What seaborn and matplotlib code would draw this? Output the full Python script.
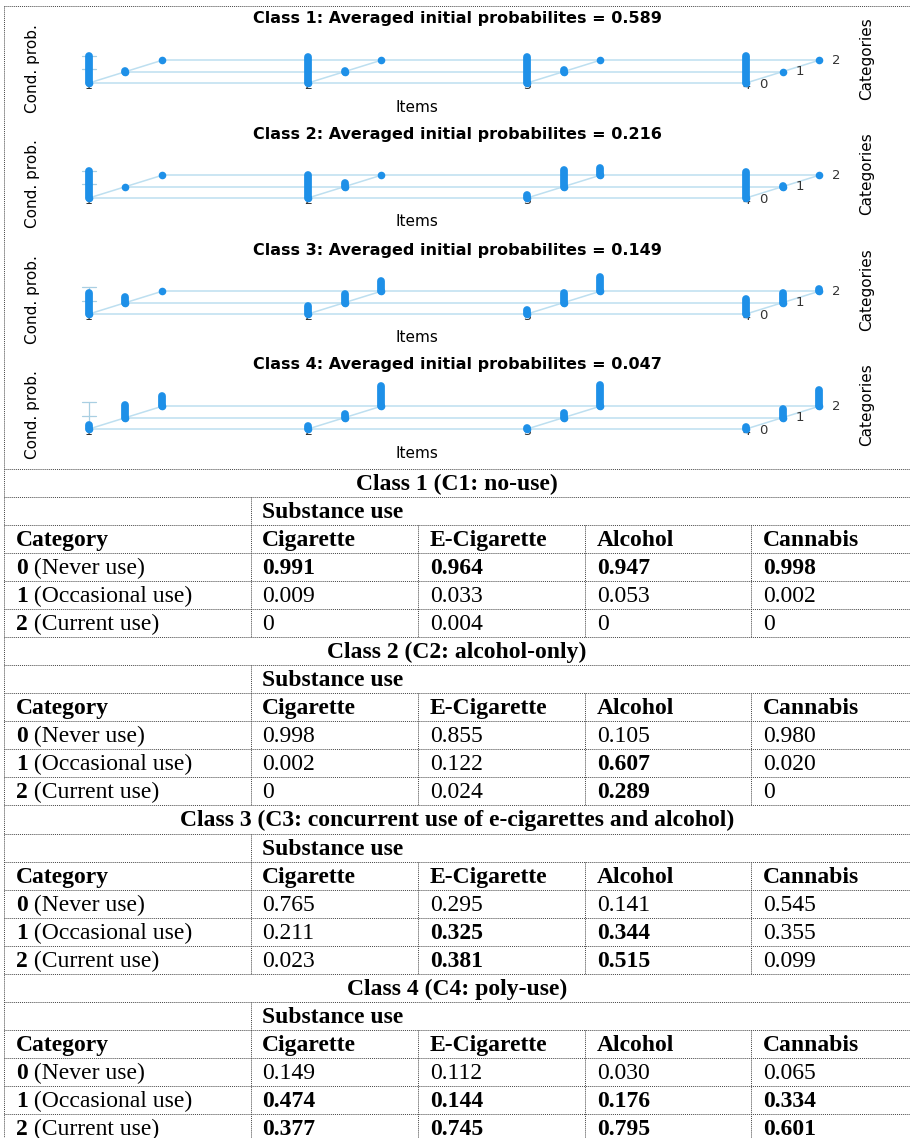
import numpy as np
import pandas as pd
import matplotlib.pyplot as plt
import seaborn as sns

# ---- data ----
items = ['Cigarette', 'E-Cigarette', 'Alcohol', 'Cannabis']
cat_codes = ['0', '1', '2']
cat_names = ['Never use', 'Occasional use', 'Current use']
class_names = ['Class 1 (C1: no-use)', 'Class 2 (C2: alcohol-only)',
               'Class 3 (C3: concurrent use of e-cigarettes and alcohol)',
               'Class 4 (C4: poly-use)']
init_probs = [0.589, 0.216, 0.149, 0.047]

# rows = category 0/1/2, columns = items
c1_probs = [[0.991, 0.964, 0.947, 0.998],
            [0.009, 0.033, 0.053, 0.002],
            [0, 0.004, 0, 0]]
c2_probs = [[0.998, 0.855, 0.105, 0.980],
            [0.002, 0.122, 0.607, 0.020],
            [0, 0.024, 0.289, 0]]
c3_probs = [[0.765, 0.295, 0.141, 0.545],
            [0.211, 0.325, 0.344, 0.355],
            [0.023, 0.381, 0.515, 0.099]]
c4_probs = [[0.149, 0.112, 0.030, 0.065],
            [0.474, 0.144, 0.176, 0.334],
            [0.377, 0.745, 0.795, 0.601]]

c1_bold = [[1, 1, 1, 1], [0, 0, 0, 0], [0, 0, 0, 0]]
c2_bold = [[0, 0, 0, 0], [0, 0, 1, 0], [0, 0, 1, 0]]
c3_bold = [[0, 0, 0, 0], [0, 1, 1, 0], [0, 1, 1, 0]]
c4_bold = [[0, 0, 0, 0], [1, 1, 1, 1], [1, 1, 1, 1]]

all_probs = [c1_probs, c2_probs, c3_probs, c4_probs]
all_bold = [c1_bold, c2_bold, c3_bold, c4_bold]

# ---- layout ----
W, H = 910, 1138
sns.set_theme(style='white')
plt.rcParams['font.family'] = ['DejaVu Sans']
plt.rcParams['text.color'] = 'black'

fig = plt.figure(figsize=(W / 100, H / 100), dpi=100)

def fx(px):
    return px / W

def fy(py):
    return 1 - py / H

BLUE = '#1e90e8'
LIGHT = '#bddff0'
SERIF = 'Liberation Serif'

# table / border axes in pixel coordinates
ax_t = fig.add_axes([0, 0, 1, 1])
ax_t.set_xlim(0, W)
ax_t.set_ylim(H, 0)
ax_t.axis('off')

# projection of (item, category, prob) onto the flat panel
item_step, cat_dy = 6, 0.42
px_x, px_y, x0_px = 36.5, 27.0, 89
baselines = [83, 198, 314, 429]

for p, probs in enumerate(all_probs):
    b = baselines[p]
    ax = fig.add_axes([0, fy(b + 40), 1, 112 / H])

    rows = []
    for k in range(3):
        for i in range(4):
            rows.append({'item': i + 1, 'cat': k, 'prob': probs[k][i],
                         'X': i * item_step + k, 'Y': k * cat_dy})
    df = pd.DataFrame(rows)

    # grid lines: one per category across items, one diagonal per item
    for k in range(3):
        d = df[df['cat'] == k]
        ax.plot(d['X'], d['Y'], color=LIGHT, lw=1.1, zorder=1)
    for i in range(1, 5):
        d = df[df['item'] == i]
        ax.plot(d['X'], d['Y'], color=LIGHT, lw=1.1, zorder=1)

    # probability axis at item 1
    hw = 7 / px_x
    ax.plot([0, 0], [0, 1], color='#a9cfe2', lw=0.9, zorder=1.5)
    for t in [0.5, 1.0]:
        ax.plot([-hw, hw], [t, t], color='#a9cfe2', lw=0.9, zorder=1.5)

    # bars
    lc = ax.vlines(df['X'], df['Y'], df['Y'] + df['prob'], color=BLUE,
                   lw=5.6, zorder=3)
    lc.set_capstyle('round')
    sns.scatterplot(data=df, x='X', y='Y', color=BLUE, s=30, linewidth=0,
                    ax=ax, zorder=3, legend=False)
    ax.set_xlim(-x0_px / px_x, (W - x0_px) / px_x)
    ax.set_ylim(-40 / px_y, 72 / px_y)
    ax.axis('off')

    # tick labels
    for i in range(4):
        ax.text(i * item_step, -0.08, str(i + 1), ha='center', va='center',
                fontsize=9, color='#333333', zorder=0.5)
    for k in range(3):
        ax.text(3 * item_step + k + 0.47, k * cat_dy - (0.06 if k == 0 else 0),
                cat_codes[k], ha='center', va='center', fontsize=9.5,
                color='#333333')

    fig.text(fx(457), fy(b - 64), 'Class %d: Averaged initial probabilites = %.3f'
             % (p + 1, init_probs[p]), ha='center', va='center',
             fontsize=11.5, fontweight='bold')
    fig.text(fx(417), fy(b + 24), 'Items', ha='center', va='center', fontsize=11)
    fig.text(fx(32), fy(b - 14), 'Cond. prob.', ha='center', va='center',
             rotation=90, fontsize=11)
    fig.text(fx(867), fy(b - 24), 'Categories', ha='center', va='center',
             rotation=90, fontsize=11)

# ---- table ----
dot = dict(color='#444444', lw=0.7, ls=(0, (1, 1)))
top, rh = 469, 28.04
col_lines = [251, 418, 585, 751]
col_text = [16, 262, 430, 597, 763]
fs = 17

ax_t.plot([4, W], [6, 6], **dot)
ax_t.plot([4, 4], [6, H], **dot)

for c in range(4):
    r0 = top + c * 6 * rh
    for r in range(6):
        ax_t.plot([4, W], [r0 + r * rh] * 2, **dot)
    ax_t.plot([col_lines[0]] * 2, [r0 + rh, r0 + 2 * rh], **dot)
    for xl in col_lines:
        ax_t.plot([xl] * 2, [r0 + 2 * rh, r0 + 6 * rh], **dot)

    ax_t.text(457, r0 + 21, class_names[c], ha='center', va='baseline',
              family=SERIF, fontsize=fs, fontweight='bold')
    ax_t.text(col_text[1], r0 + rh + 21, 'Substance use', va='baseline',
              family=SERIF, fontsize=fs, fontweight='bold')
    ax_t.text(col_text[0], r0 + 2 * rh + 21, 'Category', va='baseline',
              family=SERIF, fontsize=fs, fontweight='bold')
    for i, name in enumerate(items):
        ax_t.text(col_text[i + 1], r0 + 2 * rh + 21, name, va='baseline',
                  family=SERIF, fontsize=fs, fontweight='bold')
    for k in range(3):
        yb = r0 + (3 + k) * rh + 21
        t = ax_t.text(col_text[0], yb, cat_codes[k], va='baseline',
                      family=SERIF, fontsize=fs, fontweight='bold')
        ax_t.annotate(' (%s)' % cat_names[k], xy=(1, 0), xycoords=t,
                      ha='left', va='bottom', family=SERIF, fontsize=fs)
        for i in range(4):
            v = all_probs[c][k][i]
            s = '0' if v == 0 else '%.3f' % v
            ax_t.text(col_text[i + 1], yb, s, va='baseline', family=SERIF,
                      fontsize=fs,
                      fontweight='bold' if all_bold[c][k][i] else 'normal')

fig.savefig('out.png', dpi=100)
